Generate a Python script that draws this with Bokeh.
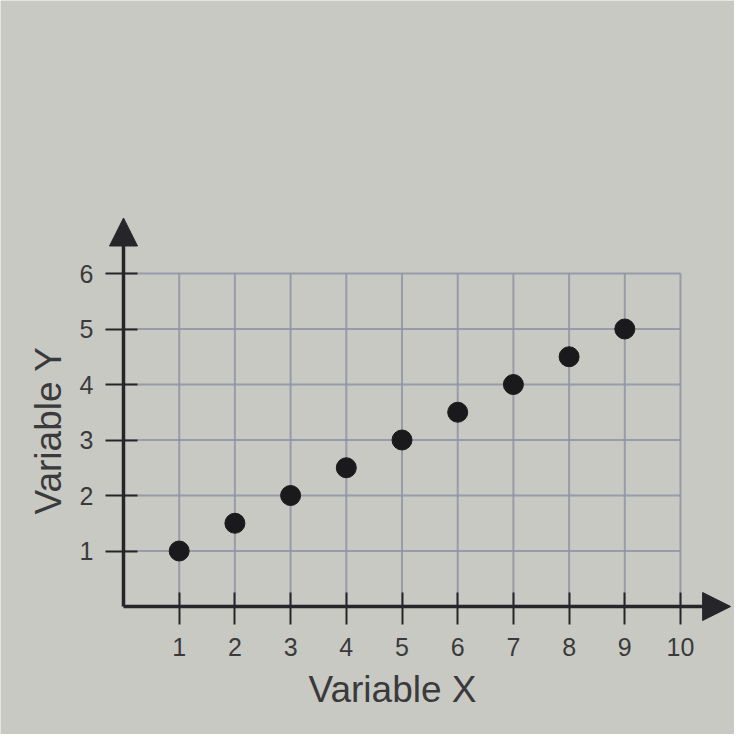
from bokeh.plotting import figure
from bokeh.models import FixedTicker, Arrow, NormalHead, ColumnDataSource
from bokeh.embed import file_html
from bokeh.resources import INLINE

# ---- data ----
x_values = [1, 2, 3, 4, 5, 6, 7, 8, 9]
y_values = [1, 1.5, 2, 2.5, 3, 3.5, 4, 4.5, 5]
x_ticks = [1, 2, 3, 4, 5, 6, 7, 8, 9, 10]
y_ticks = [1, 2, 3, 4, 5, 6]
x_title = "Variable X"
y_title = "Variable Y"

# ---- layout constants (pixels inside the figure) ----
W, H = 734, 734
ORIGIN_X, ORIGIN_Y = 123, 606        # pixel position of data (0, 0)
UNIT_X, UNIT_Y = 55.7, 55.5          # pixels per data unit
X_ARROW_END, Y_ARROW_END = 10.9, 7.0
X_AXIS_BOUNDS = (-0.34, 10)          # centres the x title like the original
Y_AXIS_BOUNDS = (0.34, 6)            # centres the y title like the original

x_start, x_end = -ORIGIN_X / UNIT_X, (W - ORIGIN_X) / UNIT_X
y_start, y_end = -(H - ORIGIN_Y) / UNIT_Y, ORIGIN_Y / UNIT_Y

BG = "#c9c9c3"
INK = "#26262a"
TXT = "#3a3a3d"
GRID = "#8f93a6"
FONT = "Liberation Sans"

p = figure(width=W, height=H, output_backend="svg", toolbar_location=None,
           x_range=(x_start, x_end), y_range=(y_start, y_end),
           min_border=0)
p.background_fill_color = BG
p.border_fill_color = BG
p.outline_line_color = None
p.grid.visible = False

# grid limited to the tick box
gx = ColumnDataSource(dict(x0=x_ticks, y0=[0] * len(x_ticks),
                           x1=x_ticks, y1=[max(y_ticks)] * len(x_ticks)))
gy = ColumnDataSource(dict(x0=[0] * len(y_ticks), y0=y_ticks,
                           x1=[max(x_ticks)] * len(y_ticks), y1=y_ticks))
p.segment("x0", "y0", "x1", "y1", source=gx, line_color=GRID, line_width=2, line_alpha=0.85)
p.segment("x0", "y0", "x1", "y1", source=gy, line_color=GRID, line_width=2, line_alpha=0.85)

# axes through the origin
for ax, ticks in ((p.xaxis[0], x_ticks), (p.yaxis[0], y_ticks)):
    ax.fixed_location = 0
    ax.ticker = FixedTicker(ticks=ticks)
    ax.minor_tick_line_color = None
    ax.axis_line_color = None
    ax.major_tick_line_color = INK
    ax.major_tick_line_width = 2
    ax.major_tick_in = 14
    ax.major_tick_out = 18
    ax.major_label_text_font = FONT
    ax.major_label_text_font_size = "25px"
    ax.major_label_text_color = TXT
    ax.axis_label_text_font = FONT
    ax.axis_label_text_font_size = "37px"
    ax.axis_label_text_font_style = "normal"
    ax.axis_label_text_color = TXT

p.xaxis.bounds = X_AXIS_BOUNDS
p.yaxis.bounds = Y_AXIS_BOUNDS
p.xaxis.axis_label = x_title
p.yaxis.axis_label = y_title
p.xaxis.major_label_standoff = 13
p.yaxis.major_label_standoff = 12
p.xaxis.axis_label_standoff = 10
p.yaxis.axis_label_standoff = 8

# axis lines with arrow heads
p.add_layout(Arrow(end=NormalHead(size=28, fill_color=INK, line_color=INK),
                   x_start=0, y_start=0, x_end=X_ARROW_END, y_end=0,
                   line_color=INK, line_width=3.5))
p.add_layout(Arrow(end=NormalHead(size=28, fill_color=INK, line_color=INK),
                   x_start=0, y_start=0, x_end=0, y_end=Y_ARROW_END,
                   line_color=INK, line_width=3.5))

# points
p.scatter(x_values, y_values, size=20, fill_color="#1a1a1c", line_color="#1a1a1c")

open("out.html", "w").write(file_html(p, INLINE))
